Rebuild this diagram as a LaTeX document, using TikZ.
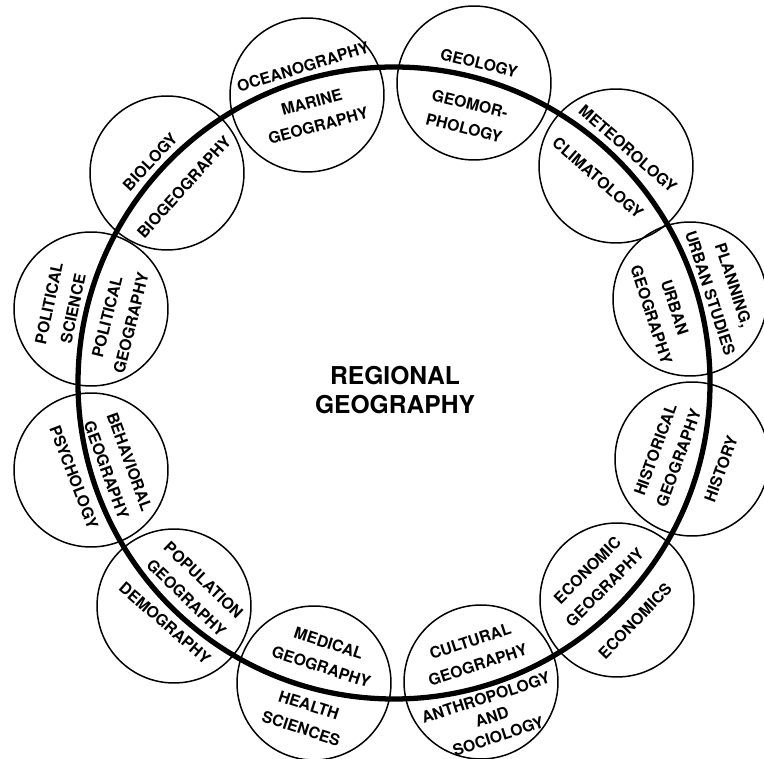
\documentclass[tikz,border=0pt]{standalone}
\usepackage{fontspec}
\setmainfont{TeX Gyre Heros}
\tikzset{
	every node/.style={
		font=\bfseries\fontsize{9}{14}\selectfont
	},
	topic/.style={
		shape=circle,
		draw,
		line width=0.85pt,
		minimum size=3.08cm,
		inner sep=0pt
	},
	ring/.style={
		draw=black,
		line width=3pt
	},
	field/.style={
		align=center,
		inner sep=1pt
	},
	title/.style={
		align=center,
		font=\bfseries\fontsize{14}{16}\selectfont
	}
}

\begin{document}
\begin{tikzpicture}[x=0.02cm, y=-0.02cm]
	\useasboundingbox (0,0) rectangle (764,759);
	
	% the twelve neighbouring fields
	\node[topic] (ocean) at (307,95)  {};
	\node[topic] (geol)  at (474,83)  {};
	\node[topic] (meteo) at (616,166) {};
	\node[topic] (urban) at (690,299) {};
	\node[topic] (hist)  at (692,459) {};
	\node[topic] (econ)  at (617,600) {};
	\node[topic] (cult)  at (481,682) {};
	\node[topic] (med)   at (314,683) {};
	\node[topic] (popul) at (174,606) {};
	\node[topic] (behav) at (91,470)  {};
	\node[topic] (polit) at (91,309)  {};
	\node[topic] (bio)   at (167,173) {};
	
	% regional geography ring
	\coordinate (hub) at (394,383);
	\draw[ring] (hub) circle [radius=316];
	\node[title] (regional) at (395,390) {REGIONAL\\GEOGRAPHY};
	
	% outside the ring
	\node[field, rotate=17]  (ocean-out) at (303,67)  {OCEANOGRAPHY};
	\node[field, rotate=-14] (geol-out)  at (479,63)  {GEOLOGY};
	\node[field, rotate=-41] (meteo-out) at (628,149) {METEOROLOGY};
	\node[field, rotate=-72] (urban-out) at (722,289) {PLANNING,\\URBAN STUDIES};
	\node[field, rotate=70]  (hist-out)  at (721,469) {HISTORY};
	\node[field, rotate=46]  (econ-out)  at (635,621) {ECONOMICS};
	\node[field, rotate=18, font=\bfseries\fontsize{9}{11.5}\selectfont]
	     (cult-out)  at (492,717) {ANTHROPOLOGY\\AND\\SOCIOLOGY};
	\node[field, rotate=-18] (med-out)   at (305,717) {HEALTH\\SCIENCES};
	\node[field, rotate=-41] (popul-out) at (165,623) {DEMOGRAPHY};
	\node[field, rotate=-69] (behav-out) at (74,477)  {PSYCHOLOGY};
	\node[field, rotate=78]  (polit-out) at (61,306)  {POLITICAL\\SCIENCE};
	\node[field, rotate=47]  (bio-out)   at (150,162) {BIOLOGY};
	
	% inside the ring
	\node[field, rotate=15]  (ocean-in) at (315,114) {MARINE\\GEOGRAPHY};
	\node[field, rotate=-14] (geol-in)  at (467,116) {GEOMOR-\\PHOLOGY};
	\node[field, rotate=-41] (meteo-in) at (598,178) {CLIMATOLOGY};
	\node[field, rotate=-72] (urban-in) at (663,311) {URBAN\\GEOGRAPHY};
	\node[field, rotate=70]  (hist-in)  at (667,454) {HISTORICAL\\GEOGRAPHY};
	\node[field, rotate=45]  (econ-in)  at (596,579) {ECONOMIC\\GEOGRAPHY};
	\node[field, rotate=18]  (cult-in)  at (474,653) {CULTURAL\\GEOGRAPHY};
	\node[field, rotate=-18] (med-in)   at (325,655) {MEDICAL\\GEOGRAPHY};
	\node[field, rotate=-44] (popul-in) at (195,589) {POPULATION\\GEOGRAPHY};
	\node[field, rotate=-70] (behav-in) at (118,466) {BEHAVIORAL\\GEOGRAPHY};
	\node[field, rotate=76]  (polit-in) at (119,320) {POLITICAL\\GEOGRAPHY};
	\node[field, rotate=48]  (bio-in)   at (184,187) {BIOGEOGRAPHY};
\end{tikzpicture}
\end{document}
